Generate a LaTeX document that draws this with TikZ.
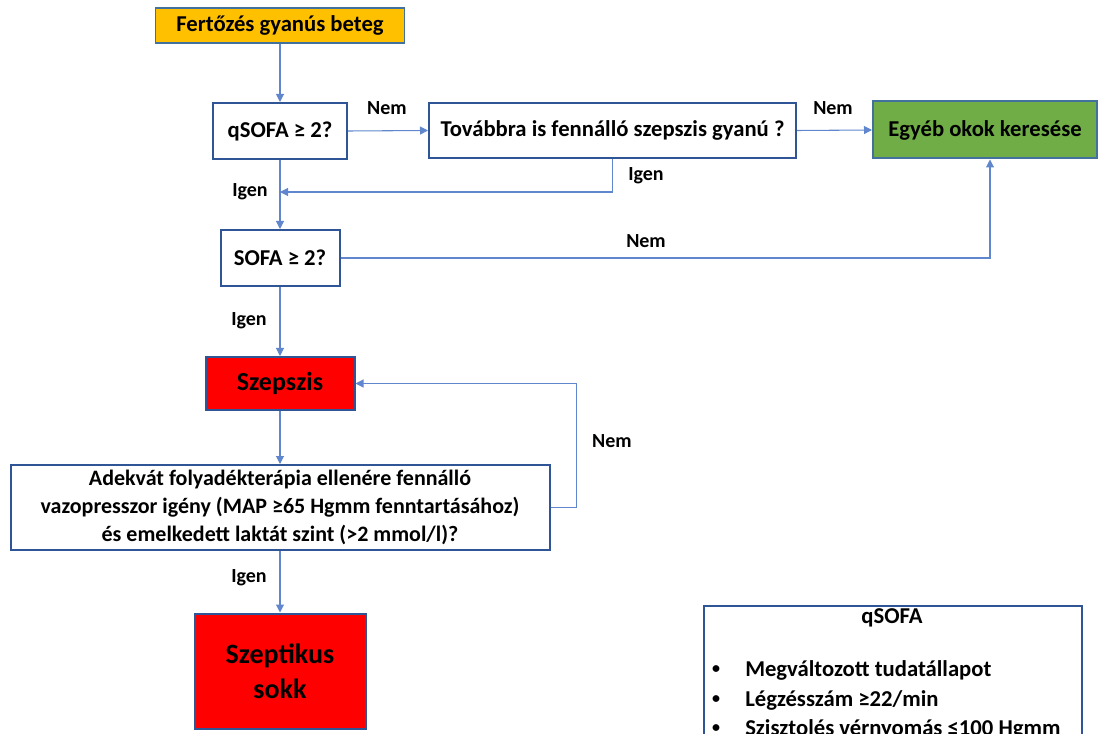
\documentclass[tikz,border=0pt]{standalone}
\usepackage{fontspec}
\setmainfont{Carlito}
\usetikzlibrary{arrows.meta}
\definecolor{boxline}{HTML}{2F5597}
\definecolor{softline}{HTML}{41719C}
\definecolor{link}{HTML}{4472C4}
\definecolor{gold}{HTML}{FFC000}
\definecolor{leaf}{HTML}{70AD47}
\definecolor{alarm}{HTML}{FF0000}
\begin{document}
\begin{tikzpicture}[x=0.75pt,y=-0.75pt,
  box/.style={draw=boxline, line width=1.5pt, rectangle, inner sep=0pt,
    align=center, font=\bfseries\fontsize{17}{21}\selectfont},
  lbl/.style={font=\bfseries\fontsize{15}{18}\selectfont, inner sep=0pt},
  item/.style={font=\bfseries\fontsize{17}{20}\selectfont, inner sep=0pt},
  dot/.style={font=\bfseries\fontsize{12}{14}\selectfont, inner sep=0pt},
  link/.style={draw=link!85, line width=0.8pt,
    -{Triangle[length=6pt,width=6pt]}}]
\useasboundingbox (0,0) rectangle (1100,734);
\clip (0,0) rectangle (1100,734);

% decision chain
\node[box, fill=gold, draw=softline, line width=1pt, minimum width=249*0.75pt, minimum height=35*0.75pt] (start) at (280,25.5) {Fertőzés gyanús beteg};
\node[box, fill=white, minimum width=134*0.75pt, minimum height=56*0.75pt] (q) at (280,131) {qSOFA ≥ 2?};
\node[box, fill=white, minimum width=367*0.75pt, minimum height=55*0.75pt] (tov) at (612.5,130.5) {Továbbra is fennálló szepszis gyanú ?};
\node[box, fill=leaf, draw=softline, minimum width=224*0.75pt, minimum height=57*0.75pt] (other) at (985,130) {Egyéb okok keresése};
\node[box, fill=white, minimum width=119*0.75pt, minimum height=56*0.75pt] (sofa) at (280,258) {SOFA ≥ 2?};
\node[box, fill=alarm, minimum width=149*0.75pt, minimum height=53*0.75pt,
  font=\bfseries\fontsize{19.5}{23}\selectfont] (sep) at (280,383.5) {Szepszis};
\node[box, fill=white, minimum width=539*0.75pt, minimum height=85*0.75pt,
  font=\bfseries\fontsize{16.5}{21}\selectfont] (ade) at (280,507.5)
  {Adekvát folyadékterápia ellenére fennálló\\vazopresszor igény (MAP ≥65 Hgmm fenntartásához)\\és emelkedett laktát szint (>2 mmol/l)?};
\node[box, fill=alarm, minimum width=171*0.75pt, minimum height=115*0.75pt,
  font=\bfseries\fontsize{21}{26}\selectfont] (shock) at (280,671) {Szeptikus\\sokk};

% qSOFA criteria panel
\node[draw=boxline, line width=1.2pt, rectangle, minimum width=378*0.75pt, minimum height=160*0.75pt, anchor=north west, inner sep=0pt] (panel) at (703,605) {};
\node[item] (ptitle) at (892,618) {qSOFA};
\node[dot] (b1) at (716,670) {•};
\node[item, anchor=west] (t1) at (745,670) {Megváltozott tudatállapot};
\node[dot] (b2) at (716,700) {•};
\node[item, anchor=west] (t2) at (745,700) {Légzésszám ≥22/min};
\node[dot] (b3) at (716,729) {•};
\node[item, anchor=west] (t3) at (745,729) {Szisztolés vérnyomás ≤100 Hgmm};

% connectors
\coordinate (merge) at (280,192);
\draw[link] (start.south) -- (q.north);
\draw[link] (q.east) -- (tov.west);
\draw[link] (tov.east) -- (other.west);
\draw[link] (tov.south) |- (merge);
\draw[link] (q.south) -- (sofa.north);
\draw[link] (sofa.east) -| ([xshift=3.75pt]other.south);
\draw[link] (sofa.south) -- (sep.north);
\draw[link] (sep.south) -- (ade.north);
\draw[link] (ade.east) -- ++(26,0) |- (sep.east);
\draw[link] (ade.south) -- (shock.north);

% branch labels
\node[lbl] (l1) at (387,108) {Nem};
\node[lbl] (l2) at (833,108) {Nem};
\node[lbl] (l3) at (646,176) {Igen};
\node[lbl] (l4) at (250,192) {Igen};
\node[lbl] (l5) at (646,241) {Nem};
\node[lbl] (l6) at (249,321) {Igen};
\node[lbl] (l7) at (612,441) {Nem};
\node[lbl] (l8) at (249,578) {Igen};
\end{tikzpicture}
\end{document}
